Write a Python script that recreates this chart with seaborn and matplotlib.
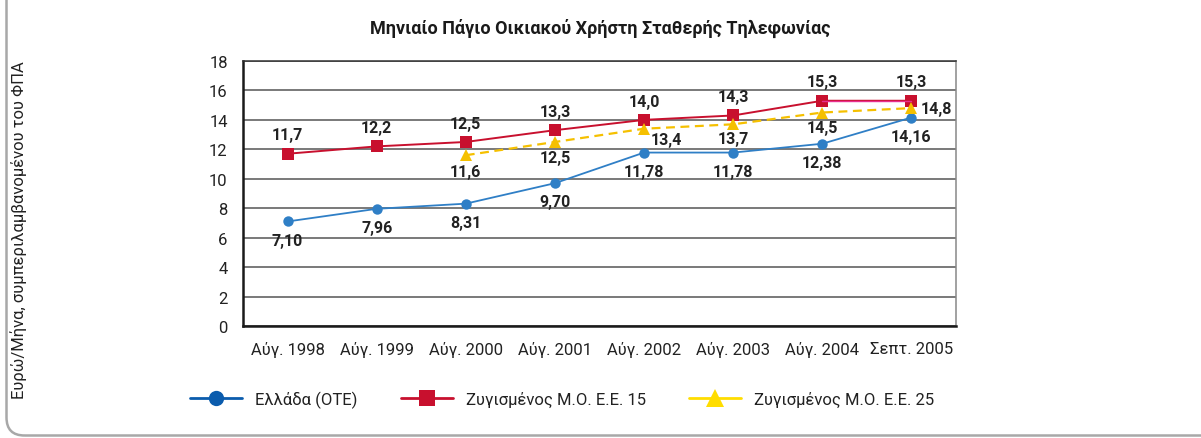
import numpy as np
import matplotlib
matplotlib.use('Agg')
import matplotlib.pyplot as plt
from matplotlib.patches import FancyBboxPatch
from matplotlib.lines import Line2D
import seaborn as sns

# Data
periods = ['Αύγ. 1998', 'Αύγ. 1999', 'Αύγ. 2000', 'Αύγ. 2001',
           'Αύγ. 2002', 'Αύγ. 2003', 'Αύγ. 2004', 'Σεπτ. 2005']
greece_ote = [7.10, 7.96, 8.31, 9.70, 11.78, 11.78, 12.38, 14.16]
eu15 = [11.7, 12.2, 12.5, 13.3, 14.0, 14.3, 15.3, 15.3]
eu25 = [11.6, 12.5, 13.4, 13.7, 14.5, 14.8]   # from Αύγ. 2000
eu25_start = 2

title = 'Μηνιαίο Πάγιο Οικιακού Χρήστη Σταθερής Τηλεφωνίας'
ylabel = 'Ευρώ/Μήνα, συμπεριλαμβανομένου του ΦΠΑ'
series_names = ['Ελλάδα (ΟΤΕ)', 'Ζυγισμένος Μ.Ο. Ε.Ε. 15', 'Ζυγισμένος Μ.Ο. Ε.Ε. 25']

sns.set_style('white')
plt.rcParams['font.family'] = ['Roboto', 'DejaVu Sans']

blue = '#2f7fc6'
red = '#c8102e'
gold = '#f5c000'

fig = plt.figure(figsize=(12.01, 4.39), dpi=100)
ax = fig.add_axes([0.2023, 0.2551, 0.5937, 0.6037])

x = np.arange(len(periods))
x25 = x[eu25_start:]

sns.lineplot(x=x, y=greece_ote, ax=ax, color=blue, lw=1.3, marker='o',
             markersize=7.5, markeredgewidth=0, zorder=4)
sns.lineplot(x=x, y=eu15, ax=ax, color=red, lw=1.4, marker='s',
             markersize=8.5, markeredgewidth=0, zorder=3)
# thin pink last segment as in the original
sns.lineplot(x=x[-2:], y=eu15[-2:], ax=ax, color='#e8308f', lw=1.0, zorder=3.5)
sns.lineplot(x=x25, y=eu25, ax=ax, color=gold, lw=1.6, marker='^',
             markersize=9, markeredgewidth=0, zorder=5, linestyle=(0, (4, 2.5)))

# value labels
def fmt(v, d):
    return f'{v:.{d}f}'.replace('.', ',')

lab_kw = dict(textcoords='offset points', ha='center', va='center',
              fontsize=11.5, fontweight='bold', color='#222222', zorder=6)
for xi, v in zip(x, greece_ote):
    ax.annotate(fmt(v, 2), (xi, v), xytext=(0, -13.5), **lab_kw)
for xi, v in zip(x, eu15):
    ax.annotate(fmt(v, 1), (xi, v), xytext=(0, 13.5), **lab_kw)
eu25_offsets = [(0, -11.5), (0, -11.5), (16, -7.5), (0, -10.5), (0, -11), (18, 0)]
for xi, v, off in zip(x25, eu25, eu25_offsets):
    ax.annotate(fmt(v, 1), (xi, v), xytext=off, **lab_kw)

# axes styling
ax.set_xlim(-0.5, 7.5)
ax.set_ylim(0, 18)
ax.set_yticks(np.arange(0, 19, 2))
ax.set_xticks(x)
ax.set_xticklabels(periods)
ax.set_xticks(np.arange(0.5, 7.6, 1), minor=True)
ax.tick_params(axis='x', which='major', length=0, pad=11, labelsize=12, colors='#222222')
ax.tick_params(axis='x', which='minor', length=4, width=1, color='#222222', direction='out')
ax.tick_params(axis='y', length=5, width=1, color='#222222', direction='out', pad=6,
               labelsize=12, labelcolor='#222222')
ax.yaxis.grid(True, color='#555555', lw=1.1)
ax.xaxis.grid(False)
ax.set_axisbelow(True)
for side in ['left', 'bottom']:
    ax.spines[side].set_color('#1a1a1a')
    ax.spines[side].set_linewidth(1.8)
ax.spines['top'].set_color('#333333')
ax.spines['top'].set_linewidth(1.1)
ax.spines['right'].set_color('#888888')
ax.spines['right'].set_linewidth(1.1)
ax.set_xlabel('')
ax.set_ylabel('')

fig.text(0.5, 0.936, title, ha='center', va='center', fontsize=13,
         fontweight='bold', color='#1a1a1a')
fig.text(0.0152, 0.476, ylabel, rotation=90, ha='center', va='center',
         fontsize=12, color='#222222')

# legend
handles = [
    Line2D([], [], color='#0b5cad', lw=2, marker='o', markersize=11, markeredgewidth=0),
    Line2D([], [], color=red, lw=2, marker='s', markersize=11, markeredgewidth=0),
    Line2D([], [], color='#ffdd00', lw=2, marker='^', markersize=13, markeredgewidth=0),
]
fig.legend(handles, series_names, loc='center left', bbox_to_anchor=(0.146, 0.088),
           ncol=3, frameon=False, fontsize=12, handlelength=3.1, handletextpad=0.8,
           columnspacing=2.6, labelcolor='#222222')

# rounded panel border (left and bottom edges)
frame = FancyBboxPatch((0.065, 0.025), 14, 6, boxstyle='round,pad=0,rounding_size=0.18',
                       transform=fig.dpi_scale_trans, fill=False, edgecolor='#a8a8a8',
                       lw=1.8, clip_on=False)
fig.patches.append(frame)

fig.savefig('out.png', dpi=100)
